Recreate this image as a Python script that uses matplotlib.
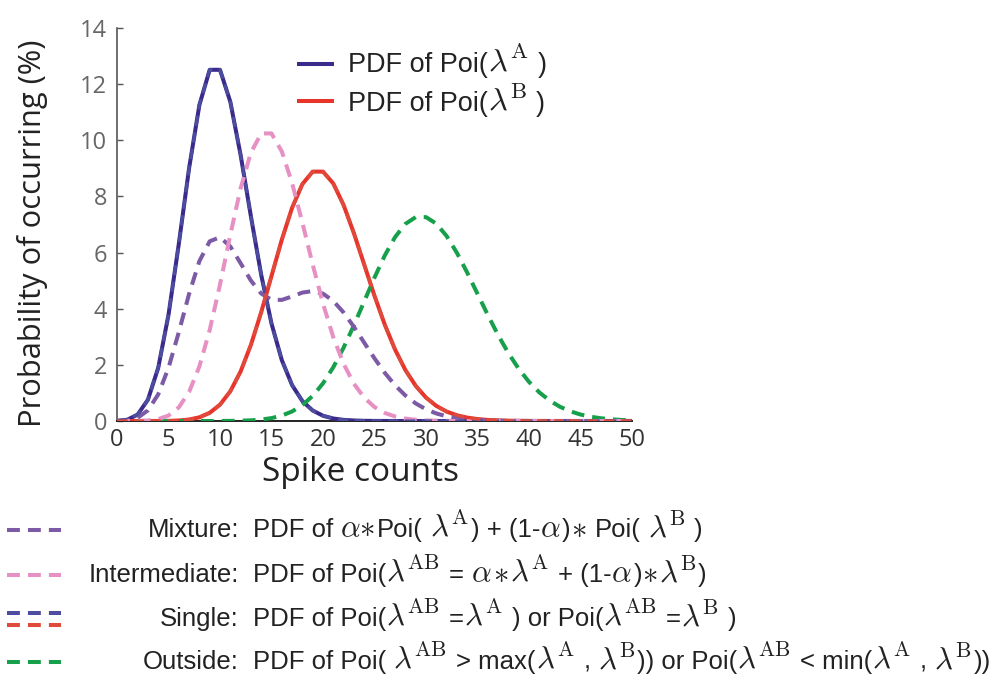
import matplotlib
matplotlib.use("Agg")
import matplotlib.pyplot as plt
from matplotlib.lines import Line2D

plt.rcParams["mathtext.fontset"] = "cm"

# Spike counts
counts = list(range(0, 51))

# Probability of occurring (%) at each spike count
poi_a = [0.005, 0.045, 0.227, 0.757, 1.892, 3.783, 6.306, 9.008, 11.260, 12.511,
         12.511, 11.374, 9.478, 7.291, 5.208, 3.472, 2.170, 1.276, 0.709, 0.373,
         0.187, 0.089, 0.040, 0.018, 0.007, 0.003, 0.001, 0.0, 0.0, 0.0,
         0.0, 0.0, 0.0, 0.0, 0.0, 0.0, 0.0, 0.0, 0.0, 0.0,
         0.0, 0.0, 0.0, 0.0, 0.0, 0.0, 0.0, 0.0, 0.0, 0.0, 0.0]
poi_b = [0.0, 0.0, 0.0, 0.0, 0.001, 0.005, 0.018, 0.052, 0.131, 0.291,
         0.582, 1.058, 1.763, 2.712, 3.874, 5.165, 6.457, 7.596, 8.440, 8.884,
         8.884, 8.461, 7.692, 6.689, 5.574, 4.459, 3.430, 2.541, 1.815, 1.252,
         0.834, 0.538, 0.336, 0.204, 0.120, 0.069, 0.038, 0.021, 0.011, 0.005,
         0.003, 0.001, 0.0, 0.0, 0.0, 0.0, 0.0, 0.0, 0.0, 0.0, 0.0]
mixture = [0.002, 0.023, 0.114, 0.379, 0.947, 1.894, 3.162, 4.530, 5.696, 6.401,
           6.547, 6.216, 5.621, 5.002, 4.541, 4.319, 4.314, 4.436, 4.575, 4.629,
           4.536, 4.275, 3.866, 3.354, 2.791, 2.231, 1.715, 1.271, 0.908, 0.626,
           0.417, 0.269, 0.168, 0.102, 0.060, 0.035, 0.019, 0.010, 0.006, 0.003,
           0.001, 0.0, 0.0, 0.0, 0.0, 0.0, 0.0, 0.0, 0.0, 0.0, 0.0]
intermediate = [0.0, 0.0, 0.003, 0.017, 0.065, 0.194, 0.484, 1.037, 1.944, 3.241,
                4.861, 6.629, 8.286, 9.561, 10.244, 10.244, 9.603, 8.474, 7.061, 5.575,
                4.181, 2.986, 2.036, 1.328, 0.830, 0.498, 0.287, 0.160, 0.086, 0.044,
                0.022, 0.011, 0.005, 0.002, 0.001, 0.0, 0.0, 0.0, 0.0, 0.0,
                0.0, 0.0, 0.0, 0.0, 0.0, 0.0, 0.0, 0.0, 0.0, 0.0, 0.0]
outside = [0.0, 0.0, 0.0, 0.0, 0.0, 0.0, 0.0, 0.0, 0.0, 0.0,
           0.002, 0.004, 0.010, 0.024, 0.051, 0.103, 0.193, 0.340, 0.566, 0.894,
           1.341, 1.916, 2.613, 3.408, 4.260, 5.111, 5.898, 6.553, 7.021, 7.263,
           7.263, 7.029, 6.590, 5.991, 5.286, 4.531, 3.776, 3.061, 2.417, 1.859,
           1.394, 1.020, 0.729, 0.508, 0.347, 0.231, 0.151, 0.096, 0.060, 0.037, 0.022]

x_ticks = [0, 5, 10, 15, 20, 25, 30, 35, 40, 45, 50]
y_ticks = [0, 2, 4, 6, 8, 10, 12, 14]

# Legend texts, split into plain pieces and math pieces
LA = r"$\lambda^{\rm A}$"
LB = r"$\lambda^{\rm B}$"
LAB = r"$\lambda^{\rm AB}$"
AL = r"$\alpha$"
ST = r"$\ast$"
top_keys = [
    ["PDF of Poi(", LA, " )"],
    ["PDF of Poi(", LB, " )"],
]
hyp_names = ["Mixture:", "Intermediate:", "Single:", "Outside:"]
hyp_texts = [
    ["PDF of ", AL + ST, "Poi( ", LA, ") + (1-", AL, ")", ST, " Poi( ", LB, " )"],
    ["PDF of Poi(", LAB, " = ", AL, ST, LA, " + (1-", AL, ")", ST, LB, ")"],
    ["PDF of Poi(", LAB, " =", LA, " ) or Poi(", LAB, " =", LB, " )"],
    ["PDF of Poi( ", LAB, " > max(", LA, " , ", LB, ")) or Poi(", LAB, " < min(",
     LA, " , ", LB, "))"],
]

c_a = "#3a2a8c"
c_a_dash = "#4c4d9e"
c_b = "#e8352b"
c_b_dash = "#e04a3b"
c_mix = "#7d5aa6"
c_int = "#e690c4"
c_out = "#17a04b"
hyp_colors = [[c_mix], [c_int], [c_a_dash, c_b_dash], [c_out]]

W, H = 995, 679
fig = plt.figure(figsize=(W / 100, H / 100), dpi=100)
ax = fig.add_axes([117 / W, 1 - 421 / H, (632 - 117) / W, (421 - 28) / H])

lw = 2.9
dash = (3.2, 2.0)
ax.plot(counts, poi_a, color=c_a, lw=lw, solid_joinstyle="round", zorder=3)
ax.plot(counts, poi_b, color=c_b, lw=lw, solid_joinstyle="round", zorder=3)
ax.plot(counts, outside, color=c_out, lw=lw, dashes=dash, zorder=4)
ax.plot(counts, mixture, color=c_mix, lw=lw, dashes=dash, zorder=4)
ax.plot(counts, intermediate, color=c_int, lw=lw, dashes=dash, zorder=4)
ax.plot(counts, poi_a, color=c_a_dash, lw=lw * 0.8, dashes=dash, zorder=5)
ax.plot(counts, poi_b, color=c_b_dash, lw=lw * 0.8, dashes=dash, zorder=5)

ax.set_xlim(0, 50)
ax.set_ylim(0, 14)
ax.set_xticks(x_ticks)
ax.set_yticks(y_ticks)
for s in ("top", "right"):
    ax.spines[s].set_visible(False)
ax.spines["left"].set_color("#555555")
ax.spines["left"].set_linewidth(1.2)
ax.spines["bottom"].set_color("#222222")
ax.spines["bottom"].set_linewidth(1.4)
ax.tick_params(axis="y", direction="in", length=4, width=1, color="#555555",
               labelsize=17, labelcolor="#666666", pad=7)
ax.tick_params(axis="x", direction="in", length=0, labelsize=17,
               labelcolor="#333333", pad=5)
for lab in ax.get_xticklabels() + ax.get_yticklabels():
    lab.set_fontfamily("Open Sans")

ax.set_xlabel("Spike counts", fontsize=24, fontfamily="Open Sans", color="#222222")
ax.xaxis.set_label_coords((360 - 117) / (632 - 117), -0.09)
ax.set_ylabel("Probability of occurring (%)", fontsize=22.2, fontfamily="Open Sans",
              color="#222222", labelpad=23, y=(421 - 233) / (421 - 28))

renderer = fig.canvas.get_renderer()
TEXT_FONT = "Liberation Sans"


def rich_text(x_px, base_px, pieces, size, math_scale=1.2, color="#222222"):
    """Lay out plain and math pieces one after another on a shared baseline."""
    space = 0.278 * size * 100 / 72
    x = x_px
    for piece in pieces:
        core = piece.strip(" ")
        lead = len(piece) - len(piece.lstrip(" "))
        trail = len(piece) - len(piece.rstrip(" "))
        x += lead * space
        is_math = core.startswith("$")
        t = fig.text(x / W, 1 - base_px / H, core, ha="left", va="baseline",
                     fontsize=size * (math_scale if is_math else 1.0),
                     fontfamily=TEXT_FONT, color=color)
        x += t.get_window_extent(renderer).width + (1.5 if is_math else 0.0)
        x += trail * space


# legend for the two reference distributions
for col, ykey, ybase, pieces in zip([c_a, c_b], [64, 101], [72, 111], top_keys):
    yy = 1 - ykey / H
    fig.add_artist(Line2D([297 / W, 334 / W], [yy, yy], color=col, lw=lw,
                          solid_capstyle="butt", transform=fig.transFigure))
    rich_text(348, ybase, pieces, 19.5)

# key for the dashed hypotheses below the axes
row_centers = [530, 575, 619, 662]
for name, pieces, cols, yc in zip(hyp_names, hyp_texts, hyp_colors, row_centers):
    offsets = [0] if len(cols) == 1 else [-6, 6]
    for col, off in zip(cols, offsets):
        yy = 1 - (yc + off) / H
        fig.add_artist(Line2D([7 / W, 61 / W], [yy, yy], color=col, lw=lw,
                              dashes=(3.2, 2.0), dash_capstyle="butt",
                              transform=fig.transFigure))
    base = yc + 7
    fig.text(239 / W, 1 - base / H, name, ha="right", va="baseline", fontsize=18.5,
             fontfamily=TEXT_FONT, color="#222222")
    rich_text(253, base, pieces, 18.5)

fig.savefig("out.png", dpi=100)
